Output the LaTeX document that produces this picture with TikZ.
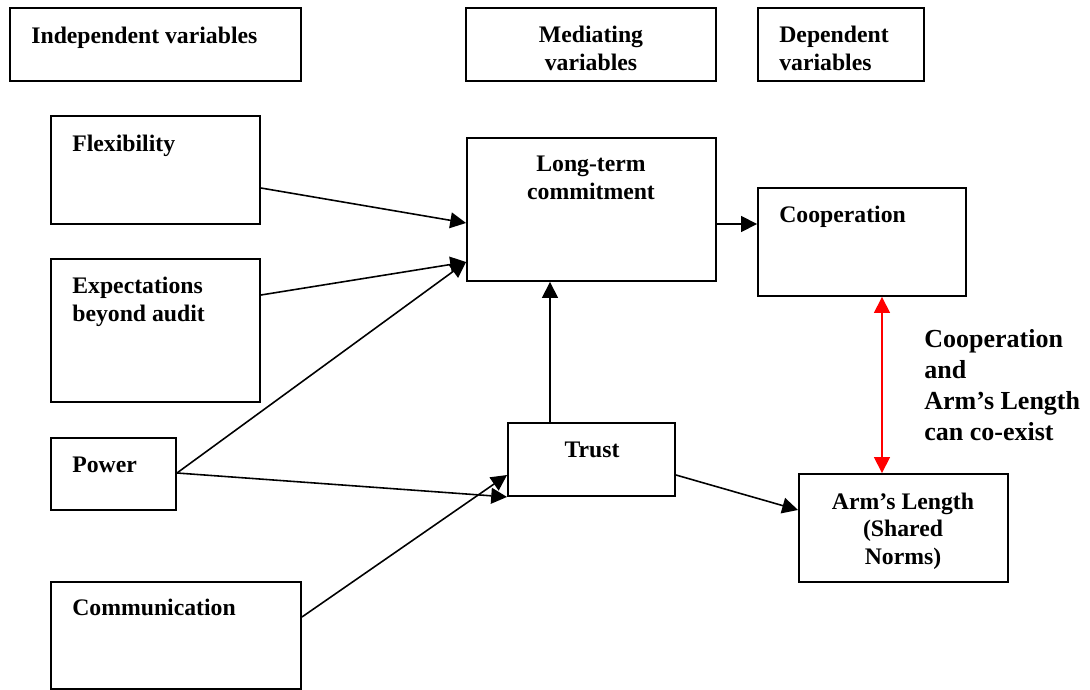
\documentclass[tikz,border=0pt]{standalone}
\usepackage{fontspec}
\setmainfont{Liberation Serif}
\usepackage{tikz}
\usetikzlibrary{positioning}
\usetikzlibrary{calc}
\usetikzlibrary{arrows.meta}

\tikzset{
  varbox/.style={draw, line width=1.1pt, inner sep=0pt},
  vartext/.style={inner sep=0pt, font=\bfseries\fontsize{13.5}{15.6}\selectfont},
  bigtext/.style={inner sep=0pt, font=\bfseries\fontsize{14.8}{17.6}\selectfont},
  link/.style={line width=0.9pt, -{Triangle[length=9pt,width=9pt]}},
}

\begin{document}
\begin{tikzpicture}[x=0.02cm, y=-0.02cm]
        \useasboundingbox (0,0) rectangle (1090,690);

        % heading boxes
        \node[varbox, minimum width=5.82cm, minimum height=1.46cm] (indep) at (155.5,44.5) {};
        \node[varbox, minimum width=5cm, minimum height=1.46cm] (medi) at (591,44.5) {};
        \node[varbox, minimum width=3.32cm, minimum height=1.46cm] (dep) at (841,44.5) {};
        \node[vartext, anchor=base west] (indeptxt) at (31,43) {Independent variables};
        \node[vartext, anchor=base, align=center] (meditxt) at (591,70) {Mediating\\variables};
        \node[vartext, anchor=base west, align=left] (deptxt) at (779,70) {Dependent\\variables};

        % independent variables
        \node[varbox, minimum width=4.18cm, minimum height=2.16cm] (flex) at (155.5,170) {};
        \node[varbox, minimum width=4.18cm, minimum height=2.86cm] (expe) at (155.5,330.5) {};
        \node[varbox, minimum width=2.5cm, minimum height=1.44cm] (power) at (113.5,474) {};
        \node[varbox, minimum width=5cm, minimum height=2.14cm] (comm) at (176,635.5) {};
        \node[vartext, anchor=base west] (flextxt) at (72,151) {Flexibility};
        \node[vartext, anchor=base west, align=left] (expetxt) at (72,321) {Expectations\\beyond audit};
        \node[vartext, anchor=base west] (powertxt) at (72,472) {Power};
        \node[vartext, anchor=base west] (commtxt) at (72,615) {Communication};

        % mediating variables
        \node[varbox, minimum width=4.98cm, minimum height=2.86cm] (ltc) at (591.5,209.5) {};
        \node[varbox, minimum width=3.34cm, minimum height=1.46cm] (trust) at (591.5,459.5) {};
        \node[vartext, anchor=base, align=center] (ltctxt) at (591,199) {Long-term\\commitment};
        \node[vartext, anchor=base] (trusttxt) at (592,457) {Trust};

        % dependent variables
        \node[varbox, minimum width=4.16cm, minimum height=2.16cm] (coop) at (862,242) {};
        \node[varbox, minimum width=4.18cm, minimum height=2.16cm] (arms) at (903.5,528) {};
        \node[vartext, anchor=base west] (cooptxt) at (779,222) {Cooperation};
        \node[vartext, anchor=base, align=center] (armstxt) at (903,564) {Arm’s Length\\(Shared\\Norms)};
        \node[bigtext, anchor=base west, align=left] (coexist) at (924,440) {Cooperation\\and\\Arm’s Length\\can co-exist};

        % links
        \draw[link] ($(flex.east)+(0,18)$) -- ($(ltc.west)+(0,13.5)$);
        \draw[link] ($(expe.east)+(0,-35.5)$) -- ($(ltc.west)+(0,52.5)$);
        \draw[link] ($(power.east)+(0,-1)$) -- ($(ltc.west)+(0,52.5)$);
        \draw[link] ($(power.east)+(0,-1)$) -- (trust.south west);
        \draw[link] ($(comm.east)+(0,-18.5)$) -- ($(trust.west)+(0,15.5)$);
        \draw[link] ($(trust.north)+(-41.5,0)$) -- ($(ltc.south)+(-41.5,0)$);
        \draw[link] ($(ltc.east)+(0,14.5)$) -- ($(coop.west)+(0,-18)$);
        \draw[link] ($(trust.east)+(0,15.5)$) -- ($(arms.west)+(0,-18)$);
        \draw[link, red, {Triangle[length=9pt,width=9pt]}-{Triangle[length=9pt,width=9pt]}] ($(coop.south)+(20,0)$) -- ($(arms.north)+(-21.5,0)$);
\end{tikzpicture}
\end{document}
